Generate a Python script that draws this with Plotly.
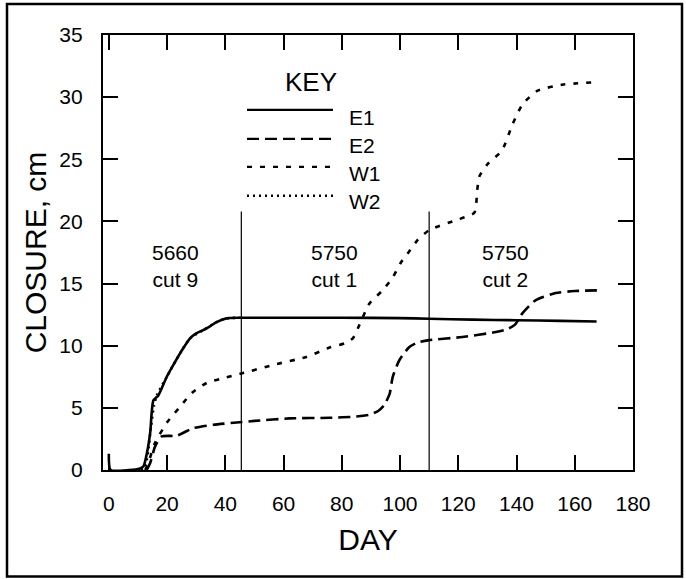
import plotly.graph_objects as go

# ---- data ----
e1_day = [0, 0.6, 7, 10.5, 11.9, 13.2, 14.2, 15.3, 17.0, 19.9, 22.5, 25.0, 27.9, 30.0, 32.4, 35.0, 37.0, 40.4, 45, 60, 80, 100, 110, 125, 140, 155, 167.5]
e1_val = [1.3, 0.0, 0.0, 0.1, 0.3, 1.5, 3.0, 5.6, 6.0, 7.5, 8.6, 9.6, 10.6, 11.0, 11.25, 11.6, 11.9, 12.2, 12.25, 12.25, 12.25, 12.22, 12.17, 12.1, 12.05, 12.0, 11.95]

e2_day = [13.0, 14.2, 15.9, 18.2, 23.3, 29.0, 35.9, 43.9, 50, 62, 75.8, 85, 89.5, 92.5, 94.5, 96.4, 97.5, 99.8, 103.2, 106, 110, 121.4, 132.9, 137, 139.5, 142, 146.5, 153.4, 160, 167.6]
e2_val = [0.0, 0.57, 1.9, 2.7, 2.76, 3.37, 3.64, 3.82, 3.95, 4.15, 4.2, 4.3, 4.45, 4.75, 5.2, 6.1, 7.5, 8.85, 9.9, 10.25, 10.45, 10.7, 11.1, 11.35, 11.7, 12.6, 13.65, 14.24, 14.4, 14.45]

w1_day = [12.5, 13.6, 15.9, 19.9, 24.5, 28.5, 33.6, 40.4, 46.1, 56.4, 67.8, 75.8, 81, 83.8, 86.0, 89.5, 94.0, 97.5, 100.3, 103.2, 106.0, 110, 119.2, 125.5, 126.5, 127.2, 130, 135, 138.6, 142, 147.1, 155.6, 167]
w1_val = [0.0, 0.6, 2.2, 3.8, 5.1, 6.2, 7.0, 7.45, 7.8, 8.45, 9.1, 9.85, 10.2, 10.6, 11.65, 13.4, 14.45, 15.5, 16.7, 17.6, 18.5, 19.3, 20.1, 20.7, 22.5, 23.6, 24.6, 25.7, 27.8, 29.4, 30.5, 31.0, 31.2]

w2_day = [11.0, 12.5, 13.5, 14.5, 15.5, 16.5, 19.9, 25.0, 27.9, 32.4, 37.0, 40.4, 45]
w2_val = [0.0, 0.3, 1.5, 3.5, 5.2, 6.0, 7.5, 9.6, 10.6, 11.25, 11.9, 12.2, 12.25]

series_names = ["E1", "E2", "W1", "W2"]

cut_days = [45.5, 110]
cut_line_top = 20.8
region_labels = ["5660<br>cut 9", "5750<br>cut 1", "5750<br>cut 2"]
region_label_days = [22.8, 77.5, 136.3]
region_label_level = 16.4

x_ticks = list(range(0, 181, 20))
y_ticks = list(range(0, 36, 5))

FONT = "Liberation Sans, Arial, sans-serif"

dash_styles = {"E1": "solid", "E2": "12px,6px", "W1": "5px,8px", "W2": "2px,4px"}

fig = go.Figure()
# W2 drawn first so E1 lies on top of it
for name, xs, ys in [("W2", w2_day, w2_val), ("W1", w1_day, w1_val),
                     ("E2", e2_day, e2_val), ("E1", e1_day, e1_val)]:
    fig.add_trace(go.Scatter(
        x=xs, y=ys, mode="lines", name=name, showlegend=False,
        line=dict(color="black", width=2.6, dash=dash_styles[name], shape="spline", smoothing=0.6),
    ))

# vertical cut separators
for d in cut_days:
    fig.add_shape(type="line", xref="x", yref="y", x0=d, x1=d, y0=0, y1=cut_line_top,
                  line=dict(color="black", width=1.2))

# region labels
for txt, d in zip(region_labels, region_label_days):
    fig.add_annotation(x=d, y=region_label_level, xref="x", yref="y", text=txt,
                       showarrow=False, font=dict(family=FONT, size=21, color="black"),
                       align="center", xanchor="center", yanchor="middle")

# ---- custom key (legend) in pixel-like paper coordinates ----
L, T, PW, PH = 103, 35, 530, 435.5
def px(xp):
    return (xp - L) / PW
def py(yp):
    return 1 - (yp - T) / PH

fig.add_annotation(x=px(311), y=py(82), xref="paper", yref="paper", text="KEY",
                   showarrow=False, xanchor="center", yanchor="middle",
                   font=dict(family=FONT, size=26, color="black"))
key_line_y = [110, 139, 167, 196]
key_text_y = [118, 146, 174, 202]
for name, ly, ty in zip(series_names, key_line_y, key_text_y):
    fig.add_shape(type="line", xref="paper", yref="paper", x0=px(247), x1=px(333),
                  y0=py(ly), y1=py(ly),
                  line=dict(color="black", width=2.4, dash=dash_styles[name]))
    fig.add_annotation(x=px(347), y=py(ty), xref="paper", yref="paper", text=name,
                       showarrow=False, xanchor="left", yanchor="middle",
                       font=dict(family=FONT, size=21, color="black"))

# outer frame
fig.add_shape(type="rect", xref="paper", yref="paper",
              x0=px(7), x1=px(682), y0=py(577), y1=py(4),
              line=dict(color="black", width=2.5))

axis_common = dict(
    showline=True, linecolor="black", linewidth=2.2, mirror="ticks",
    ticks="inside", ticklen=15, tickwidth=1.5, tickcolor="black",
    showgrid=False, zeroline=False,
    tickfont=dict(family=FONT, size=21, color="black"),
)

fig.update_xaxes(range=[-2, 180], tickvals=x_ticks, ticktext=[str(v) for v in x_ticks],
                 title=dict(text="DAY", font=dict(family=FONT, size=30, color="black"), standoff=15),
                 ticklabelstandoff=14, **axis_common)
fig.update_yaxes(range=[0, 35], tickvals=y_ticks, ticktext=[str(v) for v in y_ticks],
                 title=dict(text="CLOSURE, cm", font=dict(family=FONT, size=30, color="black"), standoff=4),
                 ticklabelstandoff=14, **axis_common)

fig.update_layout(
    width=686, height=579,
    margin=dict(l=L, r=686 - 633, t=T, b=579 - 470.5, autoexpand=False),
    paper_bgcolor="white", plot_bgcolor="white",
    showlegend=False,
)

fig.write_html("out.html")
